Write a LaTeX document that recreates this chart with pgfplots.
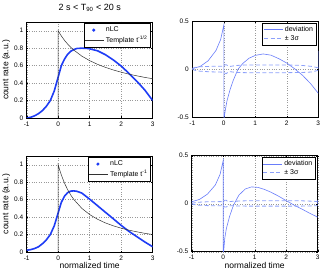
\documentclass[border=0pt]{standalone}
\usepackage{fontspec}
\setmainfont{Liberation Sans}
\usepackage{pgfplots}
\pgfplotsset{compat=1.18}
\definecolor{nlcblue}{RGB}{30,60,245}
\definecolor{devblue}{RGB}{105,125,250}
\definecolor{sigblue}{RGB}{140,160,250}
\definecolor{tmpl}{RGB}{50,50,50}
\pgfplotsset{
  myax/.style={
    scale only axis, width=126pt, height=96pt,
    xmin=-1, xmax=3, xtick={-1,0,1,2,3},
    grid=major, grid style={dotted, gray!80, line width=0.4pt},
    major tick length=1.5pt, tick style={black, line width=0.4pt},
    axis line style={line width=0.5pt},
    tick label style={font=\fontsize{6.5}{7.5}\selectfont},
    /pgf/number format/assume math mode=true,
    legend cell align=left,
    legend style={font=\fontsize{7}{8}\selectfont, at={(0.985,0.985)}, anchor=north east,
      draw=black, line width=0.5pt, inner sep=1.2pt, row sep=-1.5pt},
    label style={font=\fontsize{8.5}{10}\selectfont},
  },
  leftax/.style={myax, ymin=0, ymax=1.1, ytick={0,0.2,0.4,0.6,0.8,1},
    ylabel={count rate (a.u.)},
    ylabel style={at={(axis description cs:-0.163,0.5)}, anchor=center}},
  rightax/.style={myax, ymin=-0.5, ymax=0.5, ytick={-0.5,0,0.5}},
  nlcstyle/.style={nlcblue, line width=1.6pt,
    legend image code/.code={\fill[nlcblue] (0.3cm,0) circle (0.6pt);}},
  tmplstyle/.style={tmpl, line width=0.5pt,
    legend image code/.code={\draw[tmpl, line width=0.5pt] (0cm,0cm) -- (0.65cm,0cm);}},
  devstyle/.style={devblue, line width=0.6pt,
    legend image code/.code={\draw[devblue, line width=0.6pt] (0cm,0cm) -- (0.65cm,0cm);}},
  sigstyle/.style={sigblue, line width=0.8pt, dash pattern=on 4pt off 2.5pt,
    legend image code/.code={\draw[sigblue, line width=0.8pt, dash pattern=on 4pt off 2.5pt] (0cm,0cm) -- (0.65cm,0cm);}},
}
\begin{document}
\begin{tikzpicture}
\path[use as bounding box] (0,0) rectangle (323pt,273pt);
% ---------- top left
\begin{axis}[leftax, at={(26.7pt,155pt)}, anchor=south west,
  title={2 s < T\textsubscript{90} < 20 s},
  title style={font=\fontsize{9}{10}\selectfont, yshift=1pt}]
\addplot[nlcstyle] coordinates {(-1,0.0) (-0.875,0.008) (-0.75,0.025) (-0.625,0.05) (-0.5,0.085) (-0.375,0.135) (-0.25,0.2) (-0.125,0.31) (0,0.47) (0.1,0.6) (0.2,0.675) (0.3,0.73) (0.4,0.765) (0.5,0.785) (0.6,0.797) (0.75,0.80) (0.9,0.798) (1,0.793) (1.25,0.77) (1.5,0.725) (1.75,0.665) (2,0.595) (2.25,0.51) (2.5,0.42) (2.75,0.32) (3,0.2)};
\addlegendentry{nLC}
\addplot[tmplstyle] coordinates {(0,0) (0,1.0) (0.05,0.969) (0.1,0.940) (0.2,0.890) (0.3,0.847) (0.4,0.809) (0.5,0.777) (0.75,0.709) (1,0.657) (1.25,0.615) (1.5,0.580) (1.75,0.550) (2,0.525) (2.25,0.502) (2.5,0.483) (2.75,0.465) (3,0.450)};
\addlegendentry{Template t\textsuperscript{-1/2}}
\end{axis}
% ---------- top right
\begin{axis}[rightax, at={(192.3pt,155.7pt)}, anchor=south west]
\addplot[devstyle] coordinates {(-1,0.007) (-0.75,0.03) (-0.5,0.088) (-0.25,0.195) (-0.1,0.31) (0,0.46) (0,-0.53) (0.05,-0.42) (0.1,-0.33) (0.2,-0.21) (0.3,-0.115) (0.45,0) (0.6,0.06) (0.8,0.115) (1,0.145) (1.25,0.16) (1.5,0.147) (1.75,0.11) (2,0.065) (2.25,0.005) (2.5,-0.063) (2.75,-0.147) (3,-0.25)};
\addlegendentry{deviation}
\addplot[sigstyle] coordinates {(-1,0.01) (-0.9,0.02) (-0.75,0.027) (-0.5,0.03) (-0.25,0.032) (0,0.033) (0.03,0.045) (0.08,0.048) (0.13,0.035) (0.2,0.03) (0.4,0.04) (0.7,0.045) (1,0.045) (1.5,0.045) (2,0.045) (2.5,0.04) (2.8,0.03) (3,0.015)};
\addlegendentry{± 3σ}
\addplot[sigstyle, forget plot] coordinates {(-1,0.0) (-0.9,-0.012) (-0.75,-0.02) (-0.5,-0.025) (-0.25,-0.028) (0,-0.03) (0.03,-0.04) (0.08,-0.045) (0.13,-0.03) (0.2,-0.025) (0.4,-0.033) (0.7,-0.035) (1,-0.035) (1.5,-0.035) (2,-0.035) (2.5,-0.033) (2.8,-0.028) (3,-0.01)};
\addplot[devstyle, forget plot] coordinates {(3,0) (3,0.19)};
\end{axis}
% ---------- bottom left
\begin{axis}[leftax, at={(26.7pt,21pt)}, anchor=south west,
  xlabel={normalized time},
  xlabel style={at={(axis description cs:0.5,-0.14)}, anchor=center}]
\addplot[nlcstyle] coordinates {(-1,0.02) (-0.875,0.027) (-0.75,0.04) (-0.625,0.06) (-0.5,0.095) (-0.375,0.14) (-0.25,0.2) (-0.125,0.3) (0,0.45) (0.1,0.57) (0.2,0.64) (0.3,0.68) (0.4,0.698) (0.5,0.70) (0.6,0.695) (0.75,0.675) (1,0.605) (1.25,0.53) (1.5,0.455) (1.75,0.38) (2,0.305) (2.25,0.235) (2.5,0.175) (2.75,0.115) (3,0.06)};
\addlegendentry{nLC}
\addplot[tmplstyle] coordinates {(0,0) (0,1.0) (0.05,0.9375) (0.1,0.882) (0.2,0.789) (0.3,0.714) (0.4,0.652) (0.5,0.6) (0.75,0.5) (1,0.4286) (1.25,0.375) (1.5,0.333) (1.75,0.3) (2,0.273) (2.25,0.25) (2.5,0.231) (2.75,0.214) (3,0.2)};
\addlegendentry{Template t\textsuperscript{-1}}
\end{axis}
% ---------- bottom right
\begin{axis}[rightax, at={(191.7pt,21.3pt)}, anchor=south west,
  xlabel={normalized time},
  xlabel style={at={(axis description cs:0.5,-0.14)}, anchor=center}]
\addplot[devstyle] coordinates {(-1,0.02) (-0.75,0.045) (-0.5,0.1) (-0.25,0.195) (-0.1,0.305) (0,0.45) (0,-0.55) (0.05,-0.36) (0.1,-0.26) (0.2,-0.135) (0.3,-0.04) (0.35,0) (0.5,0.09) (0.7,0.153) (0.9,0.175) (1.1,0.17) (1.3,0.15) (1.5,0.122) (1.75,0.08) (2,0.032) (2.25,-0.015) (2.5,-0.056) (2.75,-0.1) (3,-0.14)};
\addlegendentry{deviation}
\addplot[sigstyle] coordinates {(-1,0.005) (-0.8,0.015) (-0.5,0.02) (0,0.022) (0.05,0.035) (0.1,0.035) (0.15,0.02) (0.3,0.025) (0.7,0.03) (1.5,0.03) (2.5,0.03) (2.9,0.025) (3,0.02)};
\addlegendentry{± 3σ}
\addplot[sigstyle, forget plot] coordinates {(-1,-0.005) (-0.8,-0.015) (-0.5,-0.02) (0,-0.022) (0.05,-0.035) (0.1,-0.035) (0.15,-0.02) (0.3,-0.022) (0.7,-0.025) (1.5,-0.025) (2.5,-0.025) (2.9,-0.022) (3,-0.02)};
\addplot[devstyle, forget plot] coordinates {(3,-0.005) (3,0.035)};
\end{axis}
\end{tikzpicture}
\end{document}
